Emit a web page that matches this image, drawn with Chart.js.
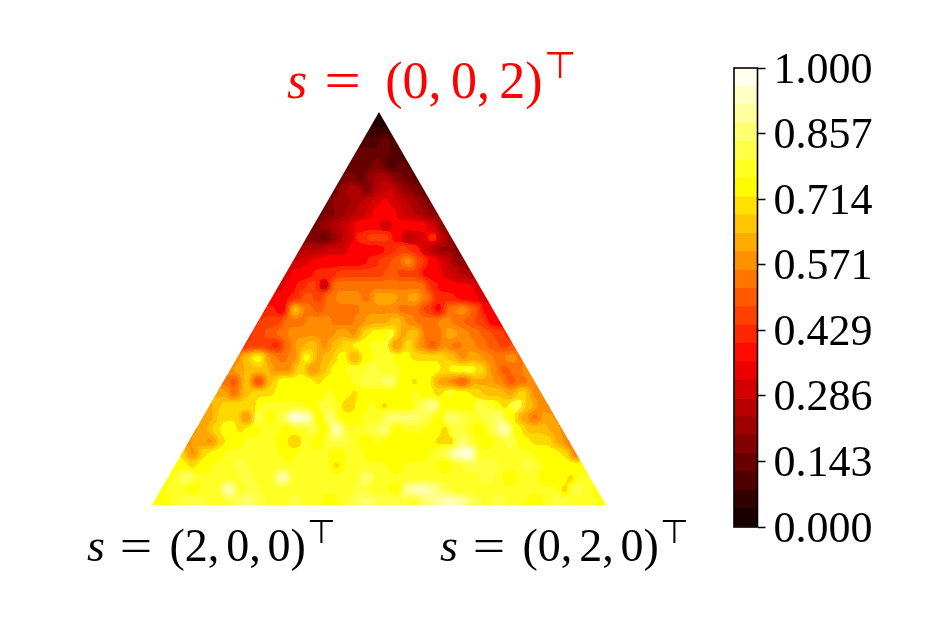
<!DOCTYPE html>
<html><head><meta charset="utf-8">
<style>
html,body{margin:0;padding:0;background:#fff;width:934px;height:623px;overflow:hidden}
canvas{position:absolute;left:0;top:0}
#tri{filter:url(#contour)}
.lab{position:absolute;font-family:"Liberation Serif",serif;white-space:nowrap;line-height:1;color:#000}
.run{word-spacing:-.1em}
.red .run{word-spacing:-.07em;margin-left:5px}
.red sup{margin-left:.12em}
.eq{display:inline-block;transform:scaleX(1.25);margin:0 .2em 0 .14em}
.lab sup{font-size:.72em;vertical-align:baseline;position:relative;top:-.54em;margin-left:.04em;font-family:"DejaVu Sans",sans-serif;font-weight:200}
</style>
<script src="https://cdn.jsdelivr.net/npm/chart.js@4"></script>
</head><body>
<svg width="0" height="0" style="position:absolute"><filter id="contour" x="0" y="0" width="100%" height="100%" color-interpolation-filters="sRGB">
<feGaussianBlur stdDeviation="3"/>
<feComponentTransfer>
<feFuncR type="discrete" tableValues="0.05 0.14 0.23 0.32 0.41 0.5 0.59 0.68 0.77 0.86 1"/>
<feFuncG type="discrete" tableValues="0 0.15 0.25 0.35 0.45 0.55 0.65 0.75 0.85 1"/>
<feFuncB type="discrete" tableValues="0 0.15 0.25 0.35 0.45 0.55 0.65 0.75 0.85 1"/>
</feComponentTransfer></filter></svg>
<canvas id="tri" width="934" height="623"></canvas>
<canvas id="bar" width="934" height="623"></canvas>
<div class="lab red" style="left:287px;top:55px;font-size:52px;color:#f00"><i>s</i> <span class="eq">=</span> <span class="run">(0, 0, 2)</span><sup>⊤</sup></div>
<div class="lab" style="left:87px;top:523px;font-size:46px"><i>s</i> <span class="eq">=</span> <span class="run">(2, 0, 0)</span><sup>⊤</sup></div>
<div class="lab" style="left:440px;top:523px;font-size:46px"><i>s</i> <span class="eq">=</span> <span class="run">(0, 2, 0)</span><sup>⊤</sup></div>
<script>
const cornersX = [0, 1, 0.5];
const cornersY = [0, 0, 1];
const tickLabels = ["0.000","0.143","0.286","0.429","0.571","0.714","0.857","1.000"];
const bandCount = 25;
const triangleRows = [
[3,3],
[4,4,4],
[8,11,12,9],
[8,13,15,13,9,6],
[10,14,15,16,10,12,10],
[9,18,14,22,24,18,14,9],
[10,20,25,17,26,30,21,16,10],
[14,20,23,25,30,34,29,24,23,14],
[12,18,20,25,31,36,38,30,26,23,16],
[14,21,24,28,38,36,30,34,39,36,29,18],
[13,18,15,21,28,41,46,46,37,26,31,42,26,15],
[22,25,27,28,30,36,38,39,42,44,40,28,21,20,15],
[28,30,33,36,36,38,38,42,47,50,58,47,36,28,22,18],
[30,33,38,40,42,44,45,47,47,48,47,45,38,33,30,26,20],
[30,35,42,44,30,52,55,52,52,54,54,55,52,43,38,33,33,28],
[34,38,42,50,44,52,56,58,55,62,63,56,62,52,43,40,38,33,30],
[34,42,35,66,55,50,52,55,55,56,58,56,54,52,46,38,55,58,48,36,33],
[40,44,47,52,55,56,58,52,55,58,62,63,64,57,55,55,58,52,50,44,38,34],
[40,44,48,55,58,58,58,57,62,58,68,74,78,63,66,54,55,62,56,55,50,47,40],
[42,44,45,42,52,62,66,58,66,70,74,76,76,57,68,58,50,58,52,56,52,50,47,50],
[52,66,72,56,52,58,72,62,66,73,60,75,78,76,73,68,70,71,64,58,62,57,52,58,54],
[56,60,66,66,56,58,68,58,66,72,76,79,80,79,77,72,72,75,70,74,79,68,58,50,52,58],
[54,48,66,46,66,72,75,72,71,72,74,78,82,81,84,75,70,72,62,58,50,62,62,58,48,55,58],
[60,62,54,66,68,71,72,74,72,72,78,75,71,74,74,75,72,78,72,70,76,72,68,66,66,62,68,58,58],
[58,64,70,70,68,76,79,79,79,72,80,79,66,72,77,70,72,72,80,90,72,74,72,82,78,68,82,66,58,55],
[60,62,68,70,56,80,72,83,96,94,74,84,74,72,78,79,84,86,84,80,72,84,80,78,80,84,72,62,54,62,58],
[58,62,68,75,71,75,77,78,75,79,80,74,94,79,78,82,86,74,77,78,72,70,80,78,72,80,92,72,66,66,62,58],
[58,62,58,70,75,77,76,78,74,67,77,74,80,82,78,75,78,74,72,75,75,70,70,84,77,75,77,80,74,68,68,62,55],
[68,58,68,72,78,79,78,78,78,75,77,78,78,74,77,77,75,75,72,72,75,78,80,92,98,78,76,78,77,77,72,72,68,55],
[72,75,70,72,78,78,82,78,79,78,77,77,78,77,70,78,79,78,77,75,76,77,77,75,79,82,82,80,77,78,80,77,75,72,75,74],
[75,77,87,78,77,78,79,82,78,79,94,78,79,78,77,77,79,86,78,78,77,76,79,77,78,78,77,82,79,72,78,77,75,72,70,79,76],
[75,76,78,75,76,78,92,79,82,79,78,77,78,79,77,78,79,82,78,77,75,91,94,91,80,78,77,79,79,79,78,77,79,78,70,80,78,75],
[75,75,76,80,82,78,78,82,85,80,76,78,82,78,76,75,78,82,85,80,80,80,78,84,90,92,88,82,78,80,78,76,72,78,82,78,76,78,75]
];

function hot(v){
  const c=(t)=>Math.round(255*Math.max(0,Math.min(1,t)));
  const r=c(0.0416+v*(1-0.0416)/0.365), g=c((v-0.365)/0.381), b=c((v-0.746)/0.254);
  return `rgb(${r},${g},${b})`;
}
const bandColor=(v)=>{const k=Math.min(bandCount-1,Math.floor(v*bandCount));return hot((k+.5)/bandCount);};

const stepX=12/454, stepY=12/393;
const cells=[],cellColors=[];
triangleRows.forEach((row,i)=>row.forEach((val,j)=>{
  cells.push({x:0.5+(j-(row.length-1)/2)*stepX,y:1-(i+0.5)*stepY});
  cellColors.push(bandColor(val/100));
}));

const triChart=new Chart(document.getElementById('tri'),{
  type:'scatter',
  data:{datasets:[
    {data:cells,pointStyle:'rect',pointRadius:9.2,pointBorderWidth:0,pointBackgroundColor:cellColors,showLine:false,clip:false},
    {data:cells,pointStyle:'rect',pointRadius:20,pointBorderWidth:0,pointBackgroundColor:cellColors,showLine:false,clip:false}
  ]},
  options:{responsive:false,animation:false,events:[],
    layout:{padding:{left:152,right:328,top:112,bottom:118}},
    plugins:{legend:{display:false},tooltip:{enabled:false}},
    scales:{x:{type:'linear',min:0,max:1,display:false},y:{type:'linear',min:0,max:1,display:false}}}
});
const sx=triChart.scales.x, sy=triChart.scales.y;
document.getElementById('tri').style.clipPath='polygon('+cornersX.map((cx,i)=>sx.getPixelForValue(cx)+'px '+sy.getPixelForValue(cornersY[i])+'px').join(',')+')';

const bandSizes=Array(bandCount).fill(1/bandCount);
const frame={id:'frame',
  beforeDraw(chart){
    const items=chart.scales.y.getLabelItems();
    if(!chart.$shifted){items.forEach(it=>{it.options.translation[1]+=3;});chart.$shifted=true;}
  },
  afterDraw(chart){
  const {ctx,chartArea:a}=chart;ctx.save();ctx.strokeStyle='#000';ctx.lineWidth=1.6;
  ctx.strokeRect(a.left,a.top,a.right-a.left,a.bottom-a.top);ctx.restore();}};
new Chart(document.getElementById('bar'),{
  type:'bar',
  data:{labels:['levels'],datasets:bandSizes.map((s,k)=>({data:[s],backgroundColor:hot((k+.5)/bandCount),borderWidth:0,categoryPercentage:1,barPercentage:1}))},
  options:{responsive:false,animation:false,events:[],
    layout:{padding:{left:734,right:0,top:68,bottom:96}},
    plugins:{legend:{display:false},tooltip:{enabled:false}},
    scales:{
      x:{stacked:true,display:false},
      y:{stacked:true,position:'right',min:0,max:1,
        afterBuildTicks(ax){ax.ticks=tickLabels.map(t=>({value:parseFloat(t)}));},
        afterFit(ax){ax.width=176.5;},
        grid:{drawOnChartArea:false,drawTicks:true,tickLength:8,tickWidth:1.5,tickColor:'#000'},
        border:{display:false},
        ticks:{autoSkip:false,padding:8,color:'#000',maxRotation:0,font:{family:'"Liberation Serif"',size:44},
          callback(v){return v.toFixed(3);}}
      }
    }},
  plugins:[frame]
});
</script>
</body></html>
